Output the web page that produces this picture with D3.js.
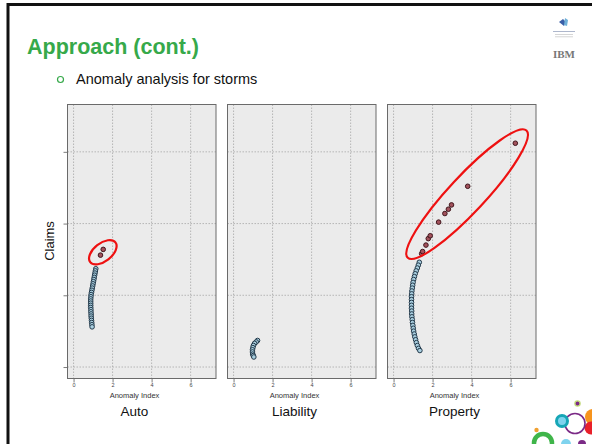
<!DOCTYPE html>
<html>
<head>
<meta charset="utf-8">
<script src="https://cdn.jsdelivr.net/npm/d3@7"></script>
<style>
  html, body { margin: 0; padding: 0; background: #fff; }
  svg { display: block; font-family: "Liberation Sans", Arial, sans-serif; }
</style>
</head>
<body>
<svg id="slide" width="592" height="444"></svg>
<script>
// Panels (lines of business)
const panels = ["Auto", "Liability", "Property"];

// Normal storms per line: [anomaly index, claims]
const autoNormal = [
  [1.14,1.37],[1.12,1.34],[1.10,1.31],[1.08,1.28],[1.06,1.25],[1.04,1.22],[1.02,1.19],
  [1.00,1.16],[0.98,1.13],[0.96,1.10],[0.94,1.07],[0.92,1.04],[0.90,1.01],[0.89,0.98],
  [0.88,0.95],[0.88,0.92],[0.88,0.89],[0.88,0.86],[0.88,0.83],[0.89,0.80],[0.89,0.77],
  [0.90,0.74],[0.90,0.71],[0.91,0.68],[0.92,0.65],[0.93,0.62],[0.94,0.59],[0.95,0.56]
];
const liabilityNormal = [
  [1.23,0.37],[1.16,0.35],[1.08,0.33],[1.02,0.30],[0.99,0.27],
  [0.97,0.24],[0.97,0.21],[0.98,0.18],[1.01,0.16],[1.04,0.14]
];
const propertyNormal = [
  [1.32,1.46],[1.27,1.42],[1.22,1.38],[1.16,1.34],[1.11,1.30],[1.07,1.26],[1.03,1.22],
  [1.00,1.18],[0.98,1.14],[0.96,1.10],[0.94,1.06],[0.93,1.02],[0.92,0.98],[0.92,0.94],
  [0.92,0.90],[0.92,0.86],[0.92,0.82],[0.93,0.78],[0.93,0.74],[0.94,0.70],[0.96,0.66],
  [0.97,0.62],[0.99,0.58],[1.01,0.54],[1.03,0.50],[1.06,0.46],[1.09,0.42],[1.13,0.38],
  [1.17,0.34],[1.22,0.30],[1.28,0.26],[1.35,0.23]
];

// Anomalous storms per line
const autoAnomaly = [[1.38,1.56],[1.52,1.64]];
const liabilityAnomaly = [];
const propertyAnomaly = [
  [1.44,1.58],[1.49,1.61],[1.66,1.70],[1.78,1.79],[1.88,1.83],[2.31,2.02],
  [2.63,2.14],[2.81,2.20],[2.97,2.26],[3.80,2.52],[6.24,3.12]
];

// Highlight rings around anomalies: centre (data units), radii in px, rotation
const autoRing = {cx: 1.50, cy: 1.60, rx: 16, ry: 9, angle: -38};
const propertyRing = {cx: 3.77, cy: 2.41, rx: 87, ry: 18, angle: -47};

const xTicks = [0, 2, 4, 6];
const yTicks = [0, 1, 2, 3];

const series = [
  {name: panels[0], normal: autoNormal, anomaly: autoAnomaly, ring: autoRing},
  {name: panels[1], normal: liabilityNormal, anomaly: liabilityAnomaly, ring: null},
  {name: panels[2], normal: propertyNormal, anomaly: propertyAnomaly, ring: propertyRing}
];

const svg = d3.select("#slide");

// Slide frame
svg.append("path").attr("d", "M8,446 L8,4.5 L594,4.5")
  .attr("fill", "none").attr("stroke", "#111").attr("stroke-width", 3);

// Heading
svg.append("text").attr("x", 27).attr("y", 54)
  .attr("font-size", 21.5).attr("font-weight", "bold").attr("fill", "#36a94a")
  .text("Approach (cont.)");
svg.append("circle").attr("cx", 60.5).attr("cy", 79.5).attr("r", 3)
  .attr("fill", "none").attr("stroke", "#36a94a").attr("stroke-width", 1.2);
svg.append("text").attr("x", 76).attr("y", 84)
  .attr("font-size", 14.5).attr("fill", "#111").text("Anomaly analysis for storms");

// Logo block, top right
const logo = svg.append("g");
logo.append("path").attr("d", "M559,22 l4,-3 l3,3 l-2,4 z").attr("fill", "#3a5fa8");
logo.append("path").attr("d", "M565,18 l3,2 l-1,6 l-3,-1 z").attr("fill", "#6fb0d8");
logo.append("rect").attr("x", 553).attr("y", 31).attr("width", 22).attr("height", 0.8).attr("fill", "#9aa6c0");
logo.append("rect").attr("x", 555).attr("y", 34).attr("width", 18).attr("height", 0.7).attr("fill", "#c4c4c4");
logo.append("rect").attr("x", 555).attr("y", 36.5).attr("width", 18).attr("height", 0.7).attr("fill", "#c4c4c4");
logo.append("text").attr("x", 564).attr("y", 58).attr("text-anchor", "middle")
  .attr("font-family", "'Liberation Serif', serif").attr("font-weight", "bold")
  .attr("font-size", 11).attr("fill", "#777").text("IBM");

// Decorative circles, bottom right
const deco = svg.append("g");
deco.append("circle").attr("cx", 543).attr("cy", 443).attr("r", 9).attr("fill", "none").attr("stroke", "#3fb54a").attr("stroke-width", 4.5);
deco.append("circle").attr("cx", 536.5).attr("cy", 430).attr("r", 2.2).attr("fill", "#f0a030");
deco.append("circle").attr("cx", 593).attr("cy", 417).attr("r", 8).attr("fill", "#f7941d");
deco.append("circle").attr("cx", 591).attr("cy", 428).attr("r", 6.5).attr("fill", "#e8202a");
deco.append("circle").attr("cx", 575).attr("cy", 423.5).attr("r", 10).attr("fill", "none").attr("stroke", "#7b2a86").attr("stroke-width", 1.6);
deco.append("circle").attr("cx", 562).attr("cy", 421).attr("r", 5.5).attr("fill", "#7fd3ee").attr("stroke", "#16a6b6").attr("stroke-width", 3);
deco.append("circle").attr("cx", 577.5).attr("cy", 403.5).attr("r", 2.6).attr("fill", "#7b2a86").attr("stroke", "#c4dc7a").attr("stroke-width", 1.3);
deco.append("circle").attr("cx", 566).attr("cy", 444).attr("r", 5).attr("fill", "#7fd3ee");
deco.append("circle").attr("cx", 582).attr("cy", 444).attr("r", 4).attr("fill", "#7b2a86");

// Panel layout
const plotTop = 104.5, plotBottom = 378.5, panelW = 148.5, gap = 11.5, left0 = 67.5;

const y = d3.scaleLinear().domain([-0.16, 3.66]).range([plotBottom, plotTop]);

series.forEach((s, i) => {
  const x0 = left0 + i * (panelW + gap);
  const x = d3.scaleLinear().domain([-0.31, 7.3]).range([x0, x0 + panelW]);
  const g = svg.append("g");

  g.append("rect").attr("x", x0).attr("y", plotTop).attr("width", panelW).attr("height", plotBottom - plotTop)
    .attr("fill", "#ebebeb");

  // grid
  g.selectAll(".vg").data(xTicks).join("line")
    .attr("x1", d => x(d)).attr("x2", d => x(d)).attr("y1", plotTop).attr("y2", plotBottom)
    .attr("stroke", "#a8a8a8").attr("stroke-width", 0.8).attr("stroke-dasharray", "1.5,1.5");
  g.selectAll(".hg").data(yTicks).join("line")
    .attr("x1", x0).attr("x2", x0 + panelW).attr("y1", d => y(d)).attr("y2", d => y(d))
    .attr("stroke", "#a8a8a8").attr("stroke-width", 0.8).attr("stroke-dasharray", "1.5,1.5");

  // x axis
  const xa = g.append("g").attr("transform", `translate(0,${plotBottom})`)
    .call(d3.axisBottom(x).tickValues(xTicks).tickSize(4).tickPadding(1).tickSizeOuter(0));
  xa.select(".domain").remove();
  xa.selectAll("line").attr("stroke", "#444").attr("stroke-width", 0.7);
  xa.selectAll("text").attr("font-size", 5.5).attr("fill", "#444").attr("font-family", "'Liberation Sans', Arial, sans-serif");

  // y ticks only on the first panel
  if (i === 0) {
    const ya = g.append("g").attr("transform", `translate(${x0},0)`)
      .call(d3.axisLeft(y).tickValues(yTicks).tickSize(4).tickFormat(""));
    ya.select(".domain").remove();
    ya.selectAll("line").attr("stroke", "#444").attr("stroke-width", 0.7);
  }

  g.append("rect").attr("x", x0).attr("y", plotTop).attr("width", panelW).attr("height", plotBottom - plotTop)
    .attr("fill", "none").attr("stroke", "#6a6a6a").attr("stroke-width", 1);

  // normal points
  g.selectAll(".n").data(s.normal).join("circle")
    .attr("cx", d => x(d[0])).attr("cy", d => y(d[1])).attr("r", 2.3)
    .attr("fill", "#a9cfe0").attr("stroke", "#23394a").attr("stroke-width", 1);

  // anomalous points
  g.selectAll(".a").data(s.anomaly).join("circle")
    .attr("cx", d => x(d[0])).attr("cy", d => y(d[1])).attr("r", 2.3)
    .attr("fill", "#a2525c").attr("stroke", "#40161c").attr("stroke-width", 1);

  if (s.ring) {
    g.append("ellipse")
      .attr("transform", `translate(${x(s.ring.cx)},${y(s.ring.cy)}) rotate(${s.ring.angle})`)
      .attr("rx", s.ring.rx).attr("ry", s.ring.ry)
      .attr("fill", "none").attr("stroke", "#ee1111").attr("stroke-width", 2.2);
  }

  const cx = x0 + 67;
  g.append("text").attr("x", cx).attr("y", 398).attr("text-anchor", "middle")
    .attr("font-size", 7.5).attr("fill", "#333").text("Anomaly Index");
  g.append("text").attr("x", cx).attr("y", 416).attr("text-anchor", "middle")
    .attr("font-size", 13.5).attr("fill", "#111").text(s.name);
});

svg.append("text").attr("transform", "translate(54,241) rotate(-90)")
  .attr("text-anchor", "middle").attr("font-size", 13).attr("fill", "#111").text("Claims");
</script>
</body>
</html>
